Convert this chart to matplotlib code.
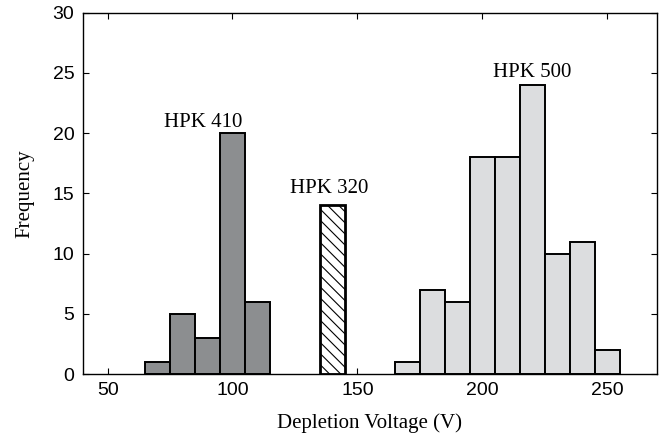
import matplotlib
matplotlib.use("Agg")
import matplotlib.pyplot as plt

# HPK 410 histogram
hpk410_left = [65, 75, 85, 95, 105]
hpk410_counts = [1, 5, 3, 20, 6]
# HPK 320 histogram
hpk320_left = [135]
hpk320_counts = [14]
# HPK 500 histogram
hpk500_left = [165, 175, 185, 195, 205, 215, 225, 235, 245]
hpk500_counts = [1, 7, 6, 18, 18, 24, 10, 11, 2]
bin_width = 10

xticks = [50, 100, 150, 200, 250]
yticks = [0, 5, 10, 15, 20, 25, 30]

plt.rcParams['hatch.linewidth'] = 0.8

fig = plt.figure(figsize=(6.62, 4.34), dpi=100)
ax = fig.add_axes([0.1249, 0.1382, 0.8675, 0.8325])

ax.bar(hpk410_left, hpk410_counts, width=bin_width, align='edge',
       color='#8c8e90', edgecolor='black', linewidth=1.4, zorder=2)
ax.bar(hpk320_left, hpk320_counts, width=bin_width, align='edge',
       color='white', edgecolor='black', linewidth=2.0, hatch='\\\\\\', zorder=2)
ax.bar(hpk500_left, hpk500_counts, width=bin_width, align='edge',
       color='#dcdddf', edgecolor='black', linewidth=1.4, zorder=2)

ax.set_xlim(40, 270)
ax.set_ylim(0, 30)
ax.set_xticks(xticks)
ax.set_yticks(yticks)
ax.tick_params(direction='in', top=True, right=True, length=4, width=0.8,
               labelsize=14, pad=6)
for lab in ax.get_xticklabels() + ax.get_yticklabels():
    lab.set_family('Liberation Sans')
for s in ax.spines.values():
    s.set_linewidth(1.0)

serif = 'Liberation Serif'
ax.set_xlabel('Depletion Voltage (V)', family=serif, fontsize=15, labelpad=10)
ax.set_ylabel('Frequency', family=serif, fontsize=15, labelpad=13)

ax.text(88.3, 20.5, 'HPK 410', family=serif, fontsize=15, ha='center', va='baseline')
ax.text(138.9, 15.0, 'HPK 320', family=serif, fontsize=15, ha='center', va='baseline')
ax.text(220, 24.7, 'HPK 500', family=serif, fontsize=15, ha='center', va='baseline')

fig.savefig('out.png', dpi=100)
